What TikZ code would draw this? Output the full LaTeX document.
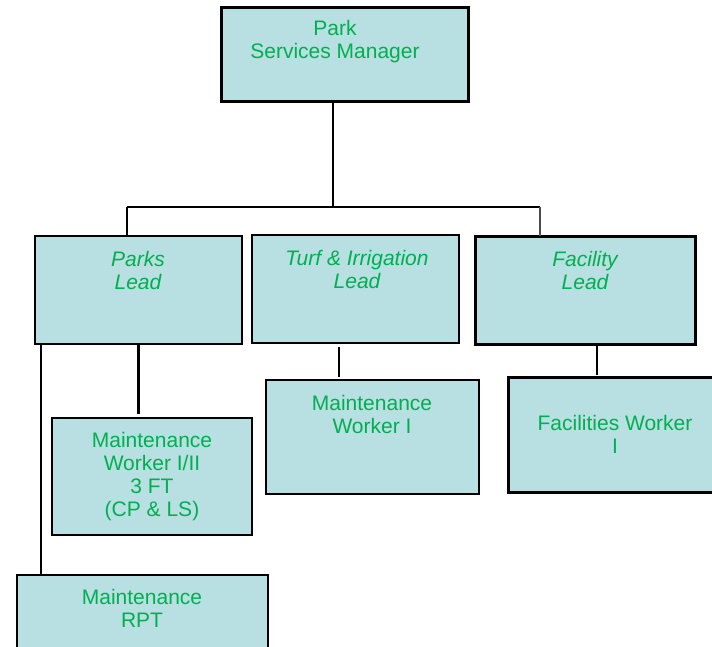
\documentclass[tikz,border=0pt]{standalone}
\usepackage{fontspec}
\setmainfont{Liberation Sans}
\definecolor{boxfill}{HTML}{B8DFE1}
\definecolor{txtgreen}{HTML}{00B050}
\begin{document}
\begin{tikzpicture}[x=0.75pt,y=-0.75pt,
  box/.style={draw=black, fill=boxfill, rectangle, inner sep=0pt, outer sep=0pt},
  thickbox/.style={box, line width=2.25pt},
  midbox/.style={box, line width=1.9pt},
  thinbox/.style={box, line width=1.1pt},
  lbl/.style={anchor=north, inner sep=0pt, align=center, text=txtgreen, font=\fontsize{15.75}{17.25}\selectfont},
  conn/.style={line width=1.9pt},
  busline/.style={line width=1.5pt}]
\useasboundingbox (0,0) rectangle (712,646);
\clip (0,0) rectangle (712,646);
% boxes
\node[thickbox, minimum width=185.25pt, minimum height=70.5pt] (psm) at (344.5,54) {};
\node[lbl] (psmt) at (335,20.5) {Park\\Services Manager};
\node[midbox, minimum width=155.25pt, minimum height=81pt] (parks) at (138.5,290) {};
\node[lbl] (parkst) at (138,251.5) {\itshape Parks\\\itshape Lead};
\node[midbox, minimum width=155.25pt, minimum height=81pt] (turf) at (355.5,289) {};
\node[lbl] (turft) at (357,250.5) {\itshape Turf \& Irrigation\\\itshape Lead};
\node[thickbox, minimum width=165pt, minimum height=81pt] (facility) at (585,290) {};
\node[lbl] (facilityt) at (585,251.5) {\itshape Facility\\\itshape Lead};
\node[thinbox, minimum width=150pt, minimum height=87.75pt] (mw12) at (152,476.5) {};
\node[lbl] (mw12t) at (152,432.5) {Maintenance\\Worker I/II\\3 FT\\(CP \& LS)};
\node[thinbox, minimum width=159.75pt, minimum height=85.5pt] (mw1) at (372.5,437) {};
\node[lbl] (mw1t) at (372,395.5) {Maintenance\\Worker I};
\node[thickbox, minimum width=156pt, minimum height=86.25pt] (fw1) at (612,434.5) {};
\node[lbl] (fw1t) at (615,415) {Facilities Worker\\I};
\node[thinbox, minimum width=188.25pt, minimum height=67.5pt] (rpt) at (142.5,620) {};
\node[lbl] (rptt) at (142,589.5) {Maintenance\\RPT};
% connectors
\coordinate (busL) at (127,207);
\coordinate (busR) at (540,207);
\draw[busline] (busL) -- (busR);
\draw[conn] ([xshift=-8.625pt]psm.south) -- ([xshift=-8.625pt]psm.south |- busL);
\draw[conn] (busL) -- (busL |- parks.north);
\draw[busline, draw=black!70] (busR) -- (busR |- facility.north);
\draw[conn] ([xshift=4.5pt]parks.south west) -- ([xshift=4.5pt]parks.south west |- rpt.north);
\draw[conn, shorten >=3pt] (parks.south) -- (parks.south |- mw12.north);
\draw[conn, shorten <=3pt, shorten >=2.25pt] ([xshift=-12.4pt]turf.south) -- ([xshift=-12.4pt]turf.south |- mw1.north);
\draw[conn, shorten >=1.5pt] ([xshift=9pt]facility.south) -- ([xshift=9pt]facility.south |- fw1.north);
\end{tikzpicture}
\end{document}
